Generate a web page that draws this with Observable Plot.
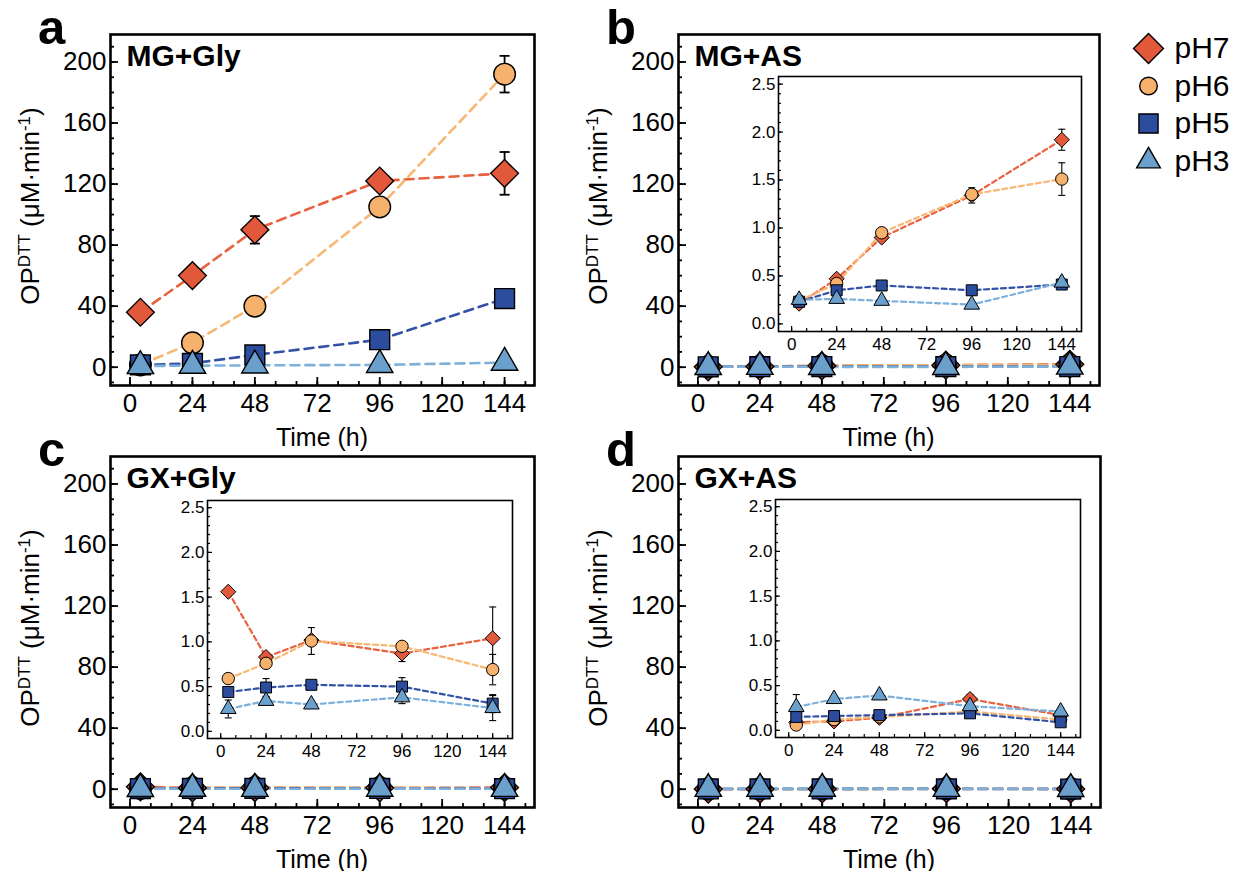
<!DOCTYPE html>
<html><head><meta charset="utf-8">
<script src="https://cdn.jsdelivr.net/npm/d3@7"></script>
<script src="https://cdn.jsdelivr.net/npm/@observablehq/plot@0.6"></script>
<style>
body{margin:0;background:#fff;font-family:"Liberation Sans",Arial,sans-serif;color:#000;}
#fig{position:relative;width:1240px;height:871px;overflow:hidden;background:#fff;}
.letter{position:absolute;font-weight:bold;font-size:49px;line-height:1.05;}
.ylab{position:absolute;font-size:26px;line-height:1;white-space:nowrap;transform:translate(-50%,-50%) rotate(-90deg);}
.ylab sup{font-size:17px;vertical-align:0.55em;line-height:0;}
.xlab{position:absolute;font-size:25px;line-height:1;white-space:nowrap;transform:translate(-50%,-50%);}
</style></head><body><div id="fig"></div>
<script>
// ---------- data ----------
const times = [4, 24, 48, 96, 144];
const seriesNames = ["pH7", "pH6", "pH5", "pH3"];
const seriesSymbols = ["diamond2", "circle", "square", "triangle"];
const seriesFill = ["#E2583B", "#F6B26D", "#2C4C9D", "#6BA0CC"];
const seriesLine = ["#E8623F", "#F8B772", "#3352A5", "#7DB0DA"];
const xTickLabels = [0, 24, 48, 72, 96, 120, 144];
const yTickLabels = [0, 40, 80, 120, 160, 200];
const insetYTickLabels = [0, 0.5, 1.0, 1.5, 2.0, 2.5];

// a: MG+Gly
const mgGly_pH7 = [36, 60, 90, 122, 127];
const mgGly_pH6 = [1.5, 16, 40, 105, 192];
const mgGly_pH5 = [1.5, 2.5, 8, 18, 45];
const mgGly_pH3 = [0.8, 1, 1.2, 1.5, 3];
const mgGly_pH7_err = [1, 2, 9, 2, 14];
const mgGly_pH6_err = [0, 1, 6, 2, 12];
const mgGly_pH5_err = [0, 0, 1, 1, 1];
const mgGly_pH3_err = [0, 0, 0, 0, 0];

// b: MG+AS
const mgAS_pH7 = [0.21, 0.47, 0.90, 1.34, 1.92];
const mgAS_pH6 = [0.24, 0.42, 0.95, 1.35, 1.51];
const mgAS_pH5 = [0.23, 0.35, 0.40, 0.35, 0.41];
const mgAS_pH3 = [0.25, 0.26, 0.24, 0.20, 0.43];
const mgAS_pH7_err = [0.02, 0.02, 0.02, 0.08, 0.11];
const mgAS_pH6_err = [0.02, 0.02, 0.03, 0.05, 0.17];
const mgAS_pH5_err = [0.01, 0.01, 0.01, 0.02, 0.02];
const mgAS_pH3_err = [0.01, 0.01, 0.01, 0.01, 0.02];

// c: GX+Gly
const gxGly_pH7 = [1.56, 0.83, 1.02, 0.87, 1.04];
const gxGly_pH6 = [0.59, 0.76, 1.01, 0.95, 0.69];
const gxGly_pH5 = [0.44, 0.49, 0.52, 0.50, 0.31];
const gxGly_pH3 = [0.25, 0.34, 0.30, 0.38, 0.26];
const gxGly_pH7_err = [0.03, 0.04, 0.05, 0.09, 0.35];
const gxGly_pH6_err = [0.03, 0.05, 0.15, 0.05, 0.17];
const gxGly_pH5_err = [0.06, 0.10, 0.03, 0.10, 0.10];
const gxGly_pH3_err = [0.10, 0.03, 0.03, 0.07, 0.14];

// d: GX+AS
const gxAS_pH7 = [0.09, 0.10, 0.14, 0.35, 0.17];
const gxAS_pH6 = [0.06, 0.12, 0.15, 0.21, 0.12];
const gxAS_pH5 = [0.15, 0.16, 0.17, 0.19, 0.09];
const gxAS_pH3 = [0.26, 0.35, 0.39, 0.27, 0.21];
const gxAS_pH7_err = [0.02, 0.02, 0.02, 0.05, 0.03];
const gxAS_pH6_err = [0.02, 0.02, 0.02, 0.02, 0.02];
const gxAS_pH5_err = [0.06, 0.02, 0.03, 0.05, 0.04];
const gxAS_pH3_err = [0.14, 0.02, 0.02, 0.04, 0.04];

// ---------- helpers ----------
const fig = document.getElementById("fig");
const range = (a, b, s) => d3.range(a, b + s / 2, s).map(v => +v.toFixed(4));
const capSymbol = {draw(ctx, size) { const w = Math.sqrt(size / Math.PI); ctx.moveTo(-w, 0); ctx.lineTo(w, 0); }};

function rowsFor(vals, errs) {
  return vals.map((vs, i) => times.map((t, j) => ({t, v: vs[j], e: errs[i][j], s: seriesNames[i]})));
}

function drawPanel(cfg) {
  const {frame, xDomain, yDomain, yTicks, yMinor, xTicks, xMinor, fs, vals, errs, r, strokeW,
         dash, lineW, frameW, majorLen, minorLen, tickW, capR, errW, yFmt, title, titleDy, bg, xPad, yPad} = cfg;
  const ml = 90, mr = 8, mt = 8, mb = 50;
  const data = rowsFor(vals, errs);
  const marks = [];
  if (bg) marks.push(Plot.frame({fill: "white", stroke: "none"}));
  marks.push(Plot.axisY(yMinor, {anchor: "left", tickSize: -minorLen, fill: "none", label: null, strokeWidth: tickW}));
  marks.push(Plot.axisY(yTicks, {anchor: "left", tickSize: -majorLen, fill: "none", label: null, strokeWidth: tickW}));
  marks.push(Plot.axisY(yTicks, {anchor: "left", tickSize: 0, tickPadding: yPad, label: null, tickFormat: yFmt}));
  marks.push(Plot.axisX(xMinor, {anchor: "bottom", tickSize: -minorLen, fill: "none", label: null, strokeWidth: tickW}));
  marks.push(Plot.axisX(xTicks, {anchor: "bottom", tickSize: -majorLen, fill: "none", label: null, strokeWidth: tickW}));
  marks.push(Plot.axisX(xTicks, {anchor: "bottom", tickSize: 0, tickPadding: xPad, label: null, tickFormat: d => String(d)}));
  data.forEach((rows, i) => marks.push(Plot.line(rows, {x: "t", y: "v", stroke: seriesLine[i], strokeWidth: lineW, strokeDasharray: dash})));
  data.forEach((rows, i) => {
    const er = rows.filter(d => d.e > 0);
    marks.push(Plot.ruleX(er, {x: "t", y1: d => d.v - d.e, y2: d => d.v + d.e, stroke: "black", strokeWidth: errW}));
    marks.push(Plot.dot(er, {x: "t", y: d => d.v + d.e, symbol: capSymbol, r: capR, stroke: "black", fill: "none", strokeWidth: errW}));
    marks.push(Plot.dot(er, {x: "t", y: d => d.v - d.e, symbol: capSymbol, r: capR, stroke: "black", fill: "none", strokeWidth: errW}));
  });
  data.forEach((rows, i) => marks.push(Plot.dot(rows, {x: "t", y: "v", symbol: seriesSymbols[i], r: r[i], fill: seriesFill[i], stroke: "black", strokeWidth: strokeW})));
  marks.push(Plot.frame({stroke: "black", strokeWidth: frameW}));
  if (title) marks.push(Plot.text([title], {text: d => d, frameAnchor: "top-left", dx: 16, dy: titleDy, fontWeight: "bold", fontSize: 30, lineAnchor: "top", textAnchor: "start"}));
  const svg = Plot.plot({
    width: frame.w + ml + mr, height: frame.h + mt + mb,
    marginLeft: ml, marginRight: mr, marginTop: mt, marginBottom: mb,
    x: {domain: xDomain, label: null}, y: {domain: yDomain, label: null},
    style: {fontFamily: "'Liberation Sans', Arial, sans-serif", fontSize: fs + "px", color: "black", background: "transparent", overflow: "visible"},
    marks
  });
  svg.style.position = "absolute";
  svg.style.left = (frame.left - ml) + "px";
  svg.style.top = (frame.top - mt) + "px";
  fig.appendChild(svg);
}

const mainCfg = {
  xDomain: [-7.5, 155.5], yDomain: [-12, 218],
  yTicks: yTickLabels, yMinor: range(-10, 210, 10),
  xTicks: xTickLabels, xMinor: range(0, 152, 8),
  fs: 26, r: [12.5, 10.8, 11.2, 9.8], strokeW: 1.4, dash: "9,6", lineW: 2.6, frameW: 2.6,
  majorLen: 8, minorLen: 4, tickW: 1.8, capR: 5, errW: 1.8, yFmt: d => String(d), xPad: 8, yPad: 4
};
const insetCfg = {
  xDomain: [-7, 154.5], yDomain: [-0.08, 2.58],
  yTicks: insetYTickLabels, yMinor: range(0, 2.5, 0.1),
  xTicks: xTickLabels, xMinor: range(0, 152, 8),
  fs: 17, r: [6.8, 6.2, 6.2, 5.8], strokeW: 1, dash: "5,3.5", lineW: 2.2, frameW: 1.6,
  majorLen: 5, minorLen: 3, tickW: 1.2, capR: 3.5, errW: 1.1, yFmt: d => d.toFixed(1), xPad: 6, yPad: 3, bg: true
};

const panels = [
  {frame: {left: 110, top: 34, w: 424, h: 351}, title: "MG+Gly", titleDy: 10,
   vals: [mgGly_pH7, mgGly_pH6, mgGly_pH5, mgGly_pH3], errs: [mgGly_pH7_err, mgGly_pH6_err, mgGly_pH5_err, mgGly_pH3_err]},
  {frame: {left: 678, top: 34, w: 421, h: 351}, title: "MG+AS", titleDy: 10,
   vals: [mgAS_pH7, mgAS_pH6, mgAS_pH5, mgAS_pH3], errs: [mgAS_pH7_err, mgAS_pH6_err, mgAS_pH5_err, mgAS_pH3_err],
   inset: {left: 778, top: 76, w: 303, h: 255}},
  {frame: {left: 110, top: 456, w: 424, h: 351}, title: "GX+Gly", titleDy: 10,
   vals: [gxGly_pH7, gxGly_pH6, gxGly_pH5, gxGly_pH3], errs: [gxGly_pH7_err, gxGly_pH6_err, gxGly_pH5_err, gxGly_pH3_err],
   inset: {left: 207, top: 500, w: 305, h: 238}},
  {frame: {left: 678, top: 456, w: 422, h: 351}, title: "GX+AS", titleDy: 10,
   vals: [gxAS_pH7, gxAS_pH6, gxAS_pH5, gxAS_pH3], errs: [gxAS_pH7_err, gxAS_pH6_err, gxAS_pH5_err, gxAS_pH3_err],
   inset: {left: 775, top: 499, w: 305, h: 238}}
];
const letters = ["a", "b", "c", "d"];

panels.forEach((p, k) => {
  drawPanel({...mainCfg, frame: p.frame, title: p.title, titleDy: p.titleDy, vals: p.vals, errs: p.errs});
  if (p.inset) drawPanel({...insetCfg, frame: p.inset, vals: p.vals, errs: p.errs});
  const L = document.createElement("div");
  L.className = "letter"; L.textContent = letters[k];
  L.style.left = (p.frame.left - 72) + "px"; L.style.top = (p.frame.top - 32) + "px";
  fig.appendChild(L);
  const Y = document.createElement("div");
  Y.className = "ylab"; Y.innerHTML = "OP<sup>DTT</sup> (μM·min<sup>-1</sup>)";
  Y.style.left = (p.frame.left - 80) + "px"; Y.style.top = (p.frame.top + 172) + "px";
  fig.appendChild(Y);
  const X = document.createElement("div");
  X.className = "xlab"; X.textContent = "Time (h)";
  X.style.left = (p.frame.left + p.frame.w / 2) + "px"; X.style.top = (p.frame.top + p.frame.h + 52) + "px";
  fig.appendChild(X);
});

// legend
const legendRows = seriesNames.map((s, i) => ({s, i}));
const legendR = [13.5, 8.8, 10.8, 8.8];
const legendMarks = legendRows.map(d => Plot.dot([d], {x: () => 0, y: () => d.i, symbol: seriesSymbols[d.i], r: legendR[d.i], fill: seriesFill[d.i], stroke: "black", strokeWidth: 1.4}));
legendMarks.push(Plot.text(legendRows, {x: () => 0, y: "i", text: "s", dx: 26, textAnchor: "start", fontSize: 30}));
const leg = Plot.plot({
  width: 120, height: 152.5, marginLeft: 20, marginRight: 10, marginTop: 20, marginBottom: 20,
  x: {domain: [0, 1], axis: null}, y: {domain: [0, 3], reverse: true, axis: null},
  style: {fontFamily: "'Liberation Sans', Arial, sans-serif", fontSize: "30px", color: "black", background: "transparent", overflow: "visible"},
  marks: legendMarks
});
leg.style.position = "absolute"; leg.style.left = "1128px"; leg.style.top = "28px";
fig.appendChild(leg);
</script></body></html>
